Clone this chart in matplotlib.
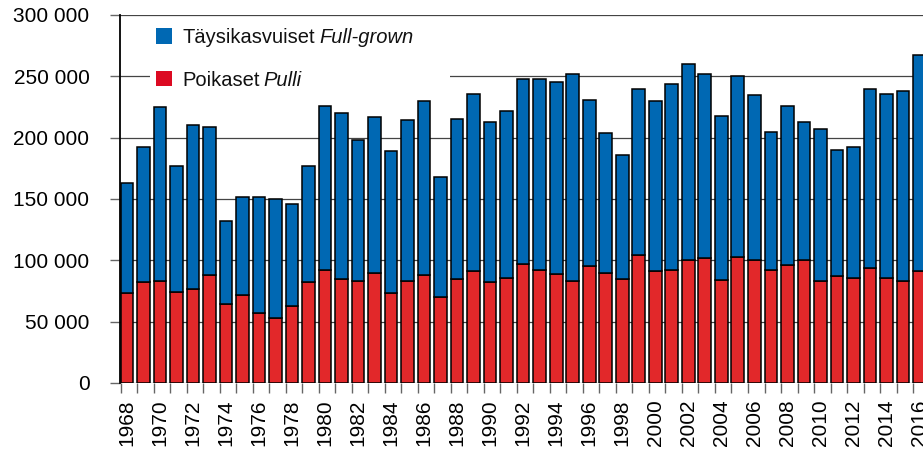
import matplotlib
matplotlib.use("Agg")
import matplotlib.pyplot as plt
import matplotlib.transforms as mtransforms
from matplotlib.patches import Patch, Rectangle
from matplotlib.ticker import FuncFormatter, FixedLocator
import numpy as np

plt.rcParams['font.family'] = ['Liberation Sans', 'DejaVu Sans']

years = list(range(1968, 2017))
# Poikaset / Pulli
pulli = [73, 82, 83, 74, 77, 88, 64, 72, 57, 53,
         63, 82, 92, 85, 83, 90, 73, 83, 88, 70,
         85, 91, 82, 86, 97, 92, 89, 83, 95, 90,
         85, 104, 91, 92, 100, 102, 84, 103, 100, 92,
         96, 100, 83, 87, 86, 94, 86, 83, 91]
# Täysikasvuiset / Full-grown
full_grown = [90, 110, 142, 103, 133, 121, 68, 80, 95, 97,
              83, 95, 134, 135, 115, 127, 116, 131, 142, 98,
              130, 145, 131, 136, 151, 156, 156, 169, 136, 114,
              101, 136, 139, 152, 160, 150, 134, 147, 135, 113,
              130, 113, 124, 103, 106, 146, 150, 155, 176]
pulli = np.array(pulli) * 1000
full_grown = np.array(full_grown) * 1000

blue = '#0068b3'
red = '#e2282a'

fig = plt.figure(figsize=(9.23, 4.5), dpi=100)
ax = fig.add_axes([120 / 923, 67 / 450, 803 / 923, 368 / 450])

x = np.arange(len(years))
w = 0.765
ax.bar(x, pulli, w, color=red, edgecolor='black', linewidth=1.1, zorder=3)
ax.bar(x, full_grown, w, bottom=pulli, color=blue, edgecolor='black', linewidth=1.1, zorder=3)

ax.set_ylim(0, 300000)
ax.set_xlim(-0.42, -0.42 + 803 / 16.51)
ax.set_yticks(np.arange(0, 300001, 50000))
ax.yaxis.set_major_formatter(FuncFormatter(lambda v, p: f"{int(v):,}".replace(",", " ")))
ax.yaxis.grid(True, color='#444444', linewidth=0.9)
ax.set_axisbelow(True)

ax.set_xticks(x[::2])
ax.set_xticklabels([str(y) for y in years[::2]], rotation=90)
ax.xaxis.set_minor_locator(FixedLocator(x - w / 2))
ax.tick_params(axis='x', which='major', length=0, pad=12, labelsize=15)
ax.tick_params(axis='x', which='minor', length=7, color='#666666', width=1)
ax.tick_params(axis='y', length=7, color='#666666', width=1, pad=15, labelsize=15)

for s in ['top', 'right', 'bottom']:
    ax.spines[s].set_visible(False)
ax.spines['left'].set_linewidth(1.3)
ax.spines['left'].set_color('black')
ax.spines['left'].set_zorder(4)

# white area behind legend hides part of 250 000 gridline
trans = mtransforms.blended_transform_factory(ax.transAxes, ax.transData)
ax.add_patch(Rectangle((30 / 803, 238000), 300 / 803, 24000, transform=trans,
                       facecolor='white', edgecolor='none', zorder=2))

handles = [Patch(facecolor=blue, edgecolor='none'), Patch(facecolor='#dc0a22', edgecolor='none')]
leg = ax.legend(handles, ['Täysikasvuiset', 'Poikaset'], loc='upper left',
                bbox_to_anchor=(156 / 923, 1 - 28 / 450), bbox_transform=fig.transFigure,
                frameon=False, fontsize=14.5, handlelength=0.8, handleheight=0.8,
                handletextpad=0.5, labelspacing=1.17, borderpad=0, borderaxespad=0)
leg.set_zorder(5)
for t, extra in zip(leg.get_texts(), ['Full-grown', 'Pulli']):
    t.set_color('#111111')
    ax.annotate(extra, xy=(1, 0), xycoords=t, xytext=(3, 0), textcoords='offset points',
                fontsize=14.5, style='italic', va='bottom', ha='left', zorder=6,
                color='#111111')

fig.savefig('out.png', dpi=100)
